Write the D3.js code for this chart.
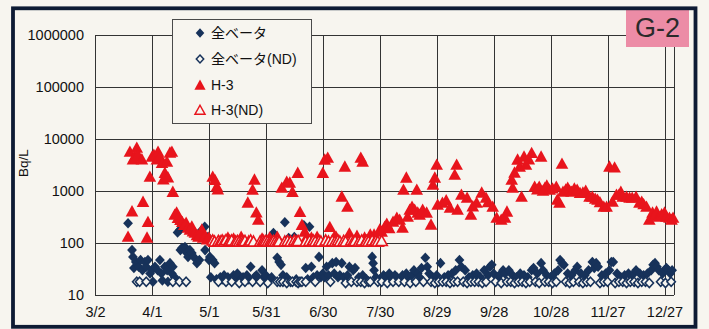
<!DOCTYPE html>
<html>
<head>
<meta charset="utf-8">
<script src="https://cdn.jsdelivr.net/npm/d3@7/dist/d3.min.js"></script>
<style>
  html, body { margin: 0; padding: 0; background: #f7f5ef; }
  svg { display: block; }
  text { font-family: "Liberation Sans", Arial, "Noto Sans CJK JP", sans-serif; }
</style>
</head>
<body>
<svg id="chart" width="709" height="329"></svg>
<script>
// ---- data (day offset from 3/2, value in Bq/L) ----
const xTickDays = [0, 30, 60, 90, 120, 150, 180, 210, 240, 270, 300];
const xTickLabels = ["3/2", "4/1", "5/1", "5/31", "6/30", "7/30", "8/29", "9/28", "10/28", "11/27", "12/27"];
const yTicks = [10, 100, 1000, 10000, 100000, 1000000];
const seriesNames = ["全ベータ", "全ベータ(ND)", "H-3", "H-3(ND)"];
const panelLabel = "G-2";
const yTitle = "Bq/L";

const betaDetected = [
  [17.4,240],[19.5,73],[20,54],[20.5,33],[21.5,43],[23,35],[24,47],[25,30],[26.3,43],[27,35],
  [27.9,47],[29,26],[30,30],[30.5,18],[31.6,35],[33,30],[34.2,47],[35,26],[35.5,19],[36.8,35],
  [38,30],[38.4,18],[39.5,41],[40.5,26],[41,35],[42,22],[43.5,160],[44.7,178],[45,73],[45.8,80],
  [47.4,84],[48.4,64],[49,54],[50,73],[51,64],[52,54],[53.7,41],[55,47],[56.3,178],[57.8,205],
  [58,73],[59.5,130],[60,47],[60.5,54],
  [61,22],[62,47],[63,41],[64,20],[66,22],[67,20],[68,24],[70,22],[71,20],[73,24],[74,22],[75,26],
  [77,20],[78,22],[80,24],[81,20],[82,35],[84,22],[85,24],[86,20],[88,30],[89,22],[90,24],[92,20],
  [93,22],[94,155],[95,115],[96,52],[97,43],[98,38],[99,24],[100,250],[101,22],[102,125],[105,130],
  [106,20],[110,220],[111,33],[112,20],[113,205],[114,35],[115,22],[117,24],[118,54],[119,22],
  [120,26],[121,22],[122,35],[123,24],[125,41],[126,26],[127,43],[128,22],[129,24],[130,41],
  [131,22],[133,24],[134,35],[136,30],[137,33],[139,22],[141,24],[143,20],[146,54],[146.5,41],
  [147,30],[148,22],[150,20],[152,24],[153,22],[155,26],[156,20],[158,24],[159,22],[161,20],
  [162,24],[164,26],[165,22],[167,24],[168,30],[170,26],[171,22],[172,33],[174,52],[175,35],
  [176,26],[178,22],[180,24],[182,41],[184,22],[186,24],[188,26],[190,30],[192,47],[193,35],
  [195,30],[197,22],[199,24],[201,26],[203,22],[205,30],[207,24],[208,35],[209,38],[210,26],
  [212,22],[213,24],[215,30],[216,26],[218,30],[220,24],[222,22],[224,26],[226,24],[228,22],
  [230,30],[231,33],[233,26],[235,41],[236,30],[238,24],[240,22],[242,26],[244,30],[245,47],
  [246,41],[247,38],[249,26],[251,24],[253,30],[254,35],[256,26],[258,24],[260,30],[262,43],
  [263,33],[264,41],[265,35],[267,24],[269,26],[271,30],[272,43],[273,43],[275,26],[277,22],
  [279,24],[281,26],[283,24],[285,30],[287,26],[289,24],[291,26],[293,30],[294,38],[295,41],
  [296,35],[297,30],[299,26],[300,30],[301,33],[302,30],[303,26],[304,30]
];

const betaND = [
  [22,18],[23.5,18],[27,18],[41,18],[44.5,18],[48,18],
  [65,18],[69,18],[72,18],[76,17],[79,18],[83,18],[87,18],[91,17],[96,18],[97.5,18],[99,18],
  [101,17],[103,18],[104,18],[106,18],[107,17],[108,18],[109,18],[111,18],[116,18],[124,18],
  [132,17],[135,18],[138,18],[140,18],[142,17],[144,18],[145,18],[149,18],[151,18],[154,17],
  [157,18],[160,18],[163,18],[166,17],[169,18],[173,18],[177,18],[179,17],[181,18],[183,18],
  [185,18],[187,17],[189,18],[191,18],[194,18],[196,17],[198,18],[200,18],[202,18],[204,17],
  [206,18],[211,18],[214,17],[217,18],[219,18],[221,17],[223,18],[225,18],[227,17],[229,18],
  [232,18],[234,17],[237,18],[239,18],[241,17],[243,18],[248,18],[250,17],[252,18],[255,18],
  [257,17],[259,18],[261,18],[266,17],[268,18],[270,18],[274,17],[276,18],[278,18],[280,17],
  [282,18],[284,18],[286,17],[288,18],[290,18],[292,17],[298,18],[300.5,17],[303.5,18]
];

const h3Detected = [
  [17.4,130],[18.4,5600],[19.5,400],[20,4000],[21,4500],[22,6700],[22.6,4900],[24.7,4000],
  [25.3,610],[27.4,125],[27.9,250],[28.9,1850],[30,4500],[31,4900],[32.6,4000],[33.2,5600],
  [34.2,4500],[35.3,3400],[36,1650],[36.8,2200],[37.9,3600],[38.4,1800],[39.5,5400],[40.5,5600],
  [41,950],[42,345],[43,380],[43.7,300],[45,275],[46,250],[47,220],[48,240],[49,195],[50,178],
  [51,205],[51.6,165],[52.6,155],[53.7,140],[54.5,130],[55.3,140],[56.3,178],[57,125],[58,130],
  [59,115],[60,125],
  [62,1850],[63.2,1600],[64.2,1200],[64.7,1050],[70,125],[73,120],[77,130],[80.5,590],[83,1045],
  [84,1630],[85,380],[86,277],[88,120],[92,125],[96,130],[98.4,1140],[101,1480],[102.6,1430],
  [104,950],[106.8,2200],[108,390],[109,220],[110.5,163],[111.6,130],[114,125],[117,130],
  [120,2200],[121,3950],[122.6,4300],[123.7,200],[126,130],[127,130],[130,770],[131.6,2900],
  [133,490],[134,150],[138,135],[140,4300],[141,3600],[142,125],[145,143],[147,143],[150,178],
  [151,163],[152.6,203],[153.7,230],[155,190],[157,253],[159,300],[160.5,277],[162,194],
  [162.5,1045],[164,1780],[164.7,316],[165.8,431],[167,492],[168.4,431],[169.5,1045],[170,378],
  [171,345],[172.6,431],[174.7,378],[177,222],[178,1300],[179,1780],[180,3160],[180.5,538],
  [183,588],[185,650],[187,471],[189.5,2030],[190.5,3160],[191,431],[193,838],[196,733],
  [198,345],[199,500],[201,588],[203.7,916],[206,733],[207,600],[209.5,492],[211.6,302],
  [214,277],[216,302],[217,395],[219.5,1630],[220,1140],[221,2220],[222.6,3950],[223.7,2900],
  [224.7,767],[226,4510],[227,3160],[228.5,4000],[230,5300],[231.6,1190],[233,1050],[234,1190],
  [235,4510],[236,1000],[237,1140],[238,1250],[239.5,1045],[241,1100],[243,1190],[243.5,671],
  [244.7,588],[246,3300],[246.5,957],[248,1050],[249,1140],[250,1000],[251,957],[252.5,1100],
  [254,1045],[255.5,900],[257,916],[258.5,1000],[260.5,767],[262,767],[263.5,700],[264.7,671],
  [266,600],[268,492],[269.5,492],[271,2900],[272.6,614],[273.7,2800],[274.7,838],[276,838],
  [277,950],[278,767],[280,767],[281.6,733],[283,733],[285,767],[286.8,588],[288,614],[289,550],
  [290.5,492],[292,277],[293.7,378],[295,330],[295.8,395],[297,316],[298.5,350],[300,378],
  [301,316],[302.6,302],[303.7,277],[304.5,302]
];

const h3ND = [
  [62,110],[63,105],[65,108],[66,105],[67,110],[68,105],[69,112],[70.5,105],[71,108],[72,110],
  [74,105],[75,108],[76,105],[77.5,110],[78,105],[79,108],[81,105],[82,110],[83.5,105],[87,105],
  [88.5,110],[89,105],[90,108],[91,105],[92.5,110],[93,105],[94,108],[95,105],[96.5,110],[97,105],
  [100,105],[101.5,108],[103,105],[105,110],[106,105],[107,108],[111,105],[113,108],[114.5,105],
  [115,110],[116,105],[118,108],[119,105],[121.5,110],[123,105],[125,108],[126.5,105],[128,110],
  [129,105],[131,108],[132,105],[135,110],[136,105],[137,108],[139,105],[140.5,110],[142.5,105],
  [143,108],[144,105],[146,110],[147.5,105],[148,108],[149,105],[151,108]
];

// ---- drawing ----
const W = 709, H = 329;
const paper = "#f7f5ef";
const navy = "#17325a";
const red = "#e8141c";
const gridColor = "#333333";
const textColor = "#111111";

const svg = d3.select("#chart");
svg.append("rect").attr("width", W).attr("height", H).attr("fill", paper);

const x = d3.scaleLinear().domain([0, 305]).range([95, 674]);
const y = d3.scaleLog().domain([10, 1000000]).range([295, 35]);

// grid + frame of plot
const plot = svg.append("g");
plot.append("g").attr("class", "hgrid")
  .selectAll("line").data(yTicks).join("line")
  .attr("x1", x(0)).attr("x2", x(305))
  .attr("y1", d => Math.round(y(d)) + 0.5).attr("y2", d => Math.round(y(d)) + 0.5)
  .attr("stroke", gridColor).attr("stroke-width", 1);
plot.append("g").attr("class", "vgrid")
  .selectAll("line").data(xTickDays.concat([305])).join("line")
  .attr("x1", d => Math.round(x(d)) + 0.5).attr("x2", d => Math.round(x(d)) + 0.5)
  .attr("y1", y(1000000)).attr("y2", y(10))
  .attr("stroke", gridColor).attr("stroke-width", 1);

// axes (labels only)
const yAxis = d3.axisLeft(y).tickValues(yTicks).tickFormat(d3.format("d")).tickSize(0).tickPadding(11);
const gy = svg.append("g").attr("transform", `translate(${x(0)},0)`).call(yAxis);
gy.select(".domain").remove();
gy.selectAll("text").attr("font-size", "14.5px").attr("fill", textColor)
  .attr("font-family", "'Liberation Sans', Arial, sans-serif");

const xAxis = d3.axisBottom(x).tickValues(xTickDays)
  .tickFormat((d, i) => xTickLabels[i]).tickSize(0).tickPadding(12);
const gx = svg.append("g").attr("transform", `translate(0,${y(10)})`).call(xAxis);
gx.select(".domain").remove();
gx.selectAll("text").attr("font-size", "14.5px").attr("fill", textColor)
  .attr("font-family", "'Liberation Sans', Arial, sans-serif");

// y title
svg.append("text")
  .attr("transform", "translate(28,163) rotate(-90)")
  .attr("text-anchor", "middle")
  .attr("font-size", "13.5px").attr("fill", textColor)
  .text(yTitle);

// marker shapes
const diamondPath = (cx, cy, r) => `M${cx},${cy - r * 1.08}L${cx + r},${cy}L${cx},${cy + r * 1.08}L${cx - r},${cy}Z`;
const triPath = (cx, cy, s) => `M${cx},${cy - s * 1.05}L${cx + s},${cy + s * 0.75}L${cx - s},${cy + s * 0.75}Z`;

const marks = svg.append("g");
marks.append("g").selectAll("path").data(betaDetected).join("path")
  .attr("d", d => diamondPath(x(d[0]), y(d[1]), 4.9))
  .attr("fill", navy);
marks.append("g").selectAll("path").data(betaND).join("path")
  .attr("d", d => diamondPath(x(d[0]), y(d[1]), 4.2))
  .attr("fill", paper).attr("stroke", navy).attr("stroke-width", 1.6);
marks.append("g").selectAll("path").data(h3Detected).join("path")
  .attr("d", d => triPath(x(d[0]), y(d[1]), 6.3))
  .attr("fill", red);
marks.append("g").selectAll("path").data(h3ND).join("path")
  .attr("d", d => triPath(x(d[0]), y(d[1]), 5.6))
  .attr("fill", paper).attr("stroke", red).attr("stroke-width", 1.6);

// legend
const lg = svg.append("g");
lg.append("rect").attr("x", 172.5).attr("y", 19.5).attr("width", 139).attr("height", 104)
  .attr("fill", paper).attr("stroke", "#4a4a4a").attr("stroke-width", 1);
const rowsY = [33, 59, 85, 110];
const lx = 200;
lg.append("path").attr("d", diamondPath(lx, rowsY[0], 4.3)).attr("fill", navy);
lg.append("path").attr("d", diamondPath(lx, rowsY[1], 3.7)).attr("fill", paper).attr("stroke", navy).attr("stroke-width", 1.5);
lg.append("path").attr("d", triPath(lx, rowsY[2] + 0.5, 5.6)).attr("fill", red);
lg.append("path").attr("d", triPath(lx, rowsY[3] + 0.5, 5.0)).attr("fill", paper).attr("stroke", red).attr("stroke-width", 1.5);
lg.selectAll("text.lt").data(seriesNames).join("text").attr("class", "lt")
  .attr("x", 211).attr("y", (d, i) => rowsY[i] + 5)
  .attr("font-size", "14px").attr("fill", textColor)
  .attr("font-family", "'Noto Sans CJK JP', 'Liberation Sans', sans-serif")
  .text(d => d);

// panel label
svg.append("rect").attr("x", 626).attr("y", 7).attr("width", 63).attr("height", 40).attr("fill", "#ec8ca6");
svg.append("text").attr("x", 657.5).attr("y", 37).attr("text-anchor", "middle")
  .attr("font-size", "27px").attr("fill", "#2a2a2a").text(panelLabel);

// outer frame
svg.append("rect").attr("x", 13).attr("y", 8.3).attr("width", 682.5).attr("height", 318.5)
  .attr("fill", "none").attr("stroke", "#0e1b34").attr("stroke-width", 3.8);
</script>
</body>
</html>
